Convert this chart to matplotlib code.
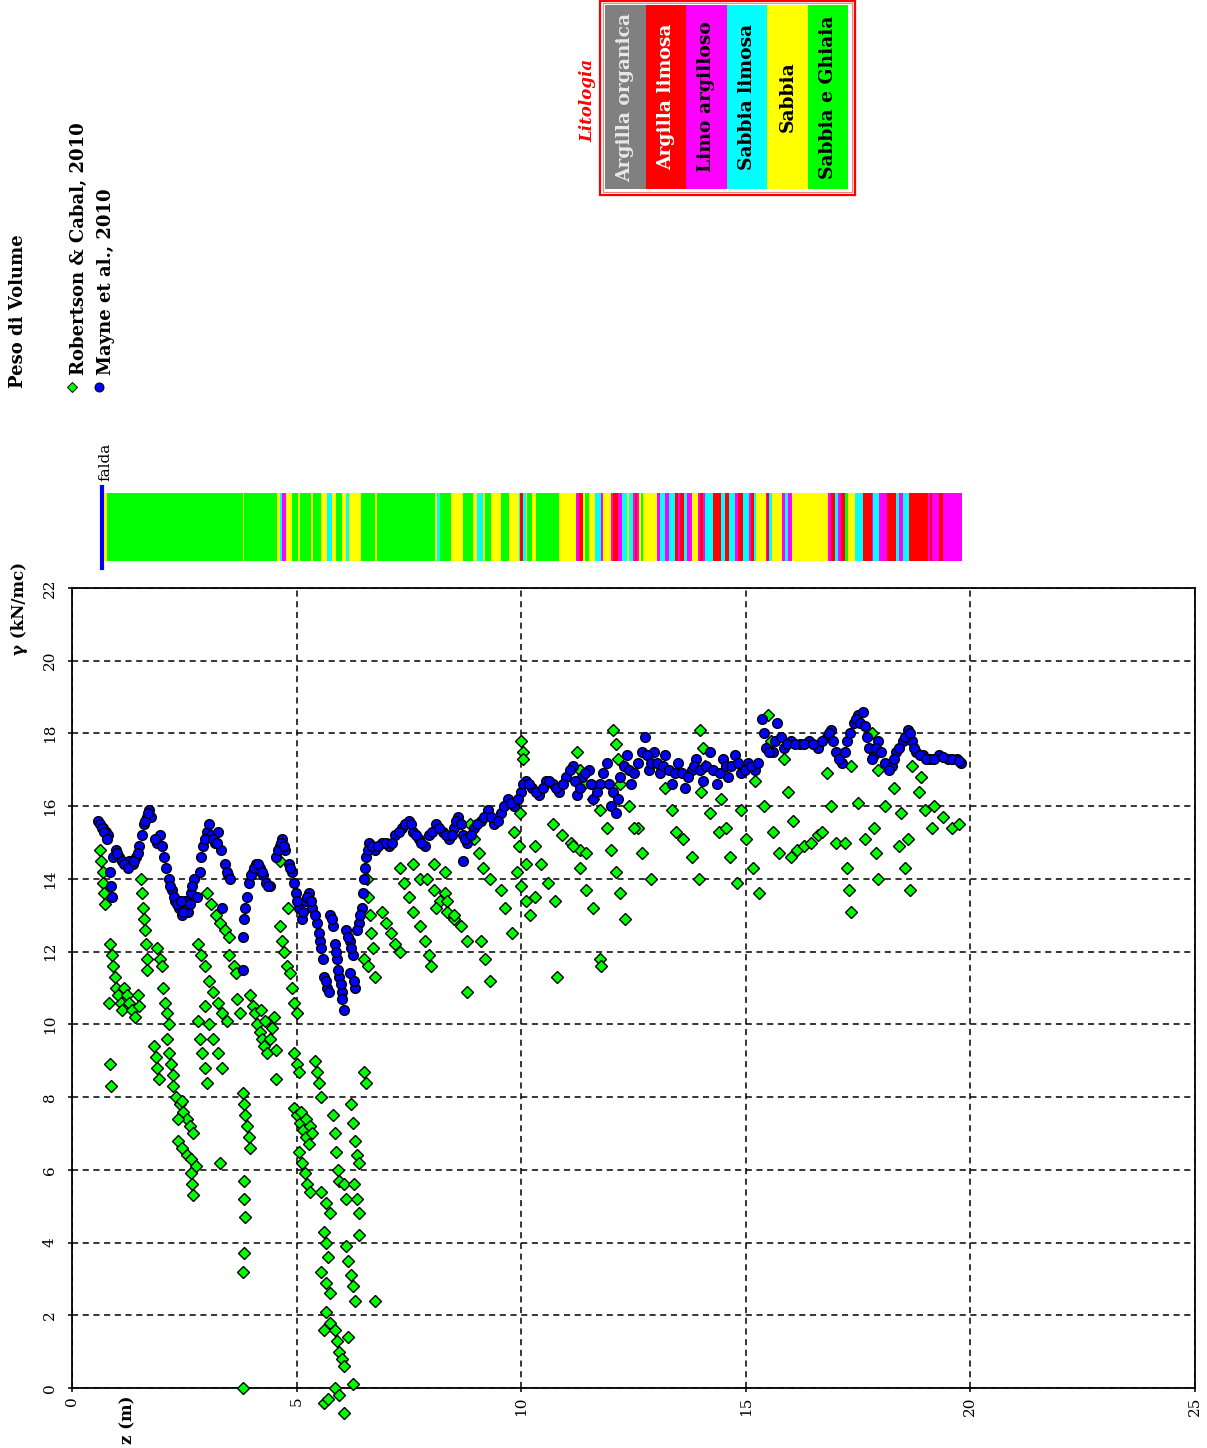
import matplotlib
matplotlib.use('Agg')
import matplotlib.pyplot as plt
from matplotlib.patches import Rectangle

plt.rcParams['font.family'] = ['DejaVu Serif']

W, H = 1207, 1448

# Robertson & Cabal, 2010 : profondita z (m) e peso di volume (kN/mc)
z_rc = [
    0.62, 0.65, 0.68, 0.70, 0.72, 0.74,
    0.82, 0.85, 0.86,
    0.85, 0.88, 0.91, 0.95, 0.99, 1.03, 1.08, 1.12,
    1.15, 1.22, 1.28, 1.34, 1.40, 1.46, 1.50,
    1.53, 1.56, 1.58, 1.60, 1.62, 1.64, 1.66, 1.68,
    1.82, 1.86, 1.90, 1.93,
    1.90, 1.95, 2.00, 2.02, 2.08, 2.12, 2.15,
    2.12, 2.16, 2.20, 2.25,
    2.25, 2.32, 2.40, 2.48, 2.55, 2.62, 2.70, 2.36, 2.45,
    2.35, 2.45, 2.55, 2.65, 2.75,
    2.65, 2.68, 2.70,
    2.80, 2.85, 2.90, 2.95, 3.00,
    2.95, 3.05, 3.15, 3.25, 3.35, 3.45,
    3.00, 3.10, 3.20, 3.30, 3.40, 3.50,
    2.80, 2.88,
    2.95, 3.05, 3.15, 3.25, 3.35,
    3.30,
    3.50, 3.60, 3.65,
    3.68, 3.75,
    3.80, 3.83, 3.86, 3.90, 3.93, 3.96,
    3.82, 3.84, 3.86,
    3.82, 3.80,
    3.80,
    3.96, 4.02, 4.08, 4.12, 4.18, 4.22, 4.28, 4.35, 4.40, 4.45, 4.50, 4.20, 4.30, 4.55,
    4.55,
    4.63, 4.68, 4.72, 4.78,
    4.85, 4.90, 4.95, 5.00,
    4.63, 4.80,
    4.95, 5.00, 5.05,
    4.95, 5.02, 5.08, 5.15, 5.22, 5.28, 5.10, 5.20, 5.30, 5.35,
    5.05, 5.12, 5.18, 5.24, 5.30,
    5.40, 5.45, 5.50, 5.55,
    5.55, 5.65, 5.75,
    5.62, 5.65, 5.70,
    5.55, 5.65, 5.75,
    5.65, 5.75, 5.85, 5.90, 5.95, 6.00, 6.05, 5.60, 6.15,
    5.60, 5.70, 5.85, 5.95, 6.05, 6.25,
    5.82, 5.85, 5.88, 5.92, 5.95,
    6.05, 6.10,
    6.10, 6.15, 6.20, 6.25, 6.30,
    6.20, 6.25, 6.30, 6.35, 6.40,
    6.28, 6.35, 6.40,
    6.40,
    6.50, 6.55,
    6.75,
    6.50, 6.60, 6.75,
    6.57, 6.60, 6.63, 6.66, 6.70,
    6.90, 7.00, 7.10, 7.20, 7.30,
    7.30, 7.40, 7.50, 7.60,
    7.60, 7.75,
    7.75, 7.85, 7.95, 8.00,
    7.90, 8.05, 8.20, 8.35, 8.50, 8.10, 8.30,
    8.05, 8.30,
    8.35, 8.50, 8.65, 8.80,
    8.80,
    8.87, 8.95, 9.05, 9.15, 9.30,
    9.10, 9.20, 9.30,
    9.55, 9.65, 9.80,
    9.85, 9.95, 10.10,
    9.97,
    10.00, 10.03, 10.05,
    9.90, 10.00, 10.10, 10.20, 10.30,
    10.30, 10.45, 10.60, 10.75,
    10.70, 10.90, 11.10, 11.30, 11.45,
    10.80,
    11.15, 11.30, 11.45, 11.60,
    11.25, 11.30, 11.35,
    11.40, 11.60, 11.75,
    11.75, 11.78,
    11.90, 12.00, 12.10, 12.20, 12.30,
    12.05, 12.10, 12.15,
    12.20, 12.40, 12.60,
    12.50, 12.70, 12.90,
    13.10, 13.20, 13.35, 13.45,
    13.60, 13.80, 13.95,
    13.98, 14.05, 14.10,
    14.00, 14.20, 14.40,
    14.45, 14.55, 14.65, 14.80,
    14.90, 15.00, 15.15, 15.30,
    15.50, 15.55,
    15.20, 15.40, 15.60, 15.75,
    15.85, 15.95, 16.05,
    16.00, 16.15, 16.30, 16.45, 16.60, 16.70,
    16.80, 16.90, 17.00,
    17.20, 17.25, 17.30, 17.35,
    17.35, 17.50, 17.65,
    17.80, 17.95, 18.10,
    17.85, 17.90, 17.95,
    18.30, 18.45, 18.60,
    18.40, 18.55, 18.65,
    18.70, 18.90,
    18.85, 19.00, 19.15,
    19.20, 19.40, 19.60, 19.75,
]
g_rc = [
    14.8, 14.5, 14.2, 13.9, 13.6, 13.3,
    10.6, 8.9, 8.3,
    12.2, 11.9, 11.6, 11.3, 11.0, 10.8, 10.6, 10.4,
    11.0, 10.8, 10.6, 10.4, 10.2, 10.8, 10.5,
    14.0, 13.6, 13.2, 12.9, 12.6, 12.2, 11.8, 11.5,
    9.4, 9.1, 8.8, 8.5,
    12.1, 11.8, 11.6, 11.0, 10.6, 10.3, 10.0,
    9.6, 9.2, 8.9, 8.6,
    8.3, 8.0, 7.8, 7.6, 7.4, 7.2, 7.0, 7.4, 7.9,
    6.8, 6.6, 6.4, 6.3, 6.1,
    5.9, 5.6, 5.3,
    10.1, 9.6, 9.2, 8.8, 8.4,
    11.6, 11.2, 10.9, 10.6, 10.3, 10.1,
    13.6, 13.3, 13.0, 12.8, 12.6, 12.4,
    12.2, 11.9,
    10.5, 10.0, 9.6, 9.2, 8.8,
    6.2,
    11.9, 11.6, 11.4,
    10.7, 10.3,
    8.1, 7.8, 7.5, 7.2, 6.9, 6.6,
    5.7, 5.2, 4.7,
    3.7, 3.2,
    0.0,
    10.8, 10.5, 10.3, 10.0, 9.8, 9.6, 9.4, 9.2, 9.6, 9.9, 10.2, 10.4, 10.1, 9.3,
    8.5,
    12.7, 12.3, 12.0, 11.6,
    11.4, 11.0, 10.6, 10.3,
    14.5, 13.2,
    9.2, 8.9, 8.7,
    7.7, 7.5, 7.3, 7.1, 6.9, 6.7, 7.6, 7.4, 7.2, 7.0,
    6.5, 6.2, 5.9, 5.6, 5.4,
    9.0, 8.7, 8.4, 8.0,
    5.4, 5.1, 4.8,
    4.3, 4.0, 3.6,
    3.2, 2.9, 2.6,
    2.1, 1.8, 1.6, 1.3, 1.0, 0.8, 0.6, 1.6, 1.4,
    -0.4, -0.3, 0.0, -0.2, -0.7, 0.1,
    7.5, 7.0, 6.5, 6.0, 5.7,
    5.6, 5.2,
    3.9, 3.5, 3.1, 2.8, 2.4,
    7.8, 7.3, 6.8, 6.4, 6.2,
    5.6, 5.2, 4.8,
    4.2,
    8.7, 8.4,
    2.4,
    11.8, 11.6, 11.3,
    14.0, 13.5, 13.0, 12.5, 12.1,
    13.1, 12.8, 12.5, 12.2, 12.0,
    14.3, 13.9, 13.5, 13.1,
    14.4, 14.0,
    12.7, 12.3, 11.9, 11.6,
    14.0, 13.7, 13.4, 13.1, 12.9, 13.2, 13.6,
    14.4, 14.2,
    13.4, 13.0, 12.7, 12.3,
    10.9,
    15.5, 15.1, 14.7, 14.3, 14.0,
    12.3, 11.8, 11.2,
    13.7, 13.2, 12.5,
    15.3, 14.9, 14.4,
    15.8,
    17.8, 17.5, 17.3,
    14.2, 13.8, 13.4, 13.0, 13.5,
    14.9, 14.4, 13.9, 13.4,
    15.5, 15.2, 15.0, 14.8, 14.7,
    11.3,
    14.9, 14.3, 13.7, 13.2,
    17.5, 17.0, 16.6,
    16.6, 16.2, 15.9,
    11.8, 11.6,
    15.4, 14.8, 14.2, 13.6, 12.9,
    18.1, 17.7, 17.3,
    16.6, 16.0, 15.4,
    15.4, 14.7, 14.0,
    17.1, 16.5, 15.9, 15.3,
    15.1, 14.6, 14.0,
    18.1, 17.6, 17.1,
    16.4, 15.8, 15.3,
    16.2, 15.4, 14.6, 13.9,
    15.9, 15.1, 14.3, 13.6,
    18.5, 17.8,
    16.7, 16.0, 15.3, 14.7,
    17.3, 16.4, 15.6,
    14.6, 14.8, 14.9, 15.0, 15.2, 15.3,
    16.9, 16.0, 15.0,
    15.0, 14.3, 13.7, 13.1,
    17.1, 16.1, 15.1,
    18.0, 17.0, 16.0,
    15.4, 14.7, 14.0,
    16.5, 15.8, 15.1,
    14.9, 14.3, 13.7,
    17.1, 16.8,
    16.4, 15.9, 15.4,
    16.0, 15.7, 15.4, 15.5,
]

# Mayne et al., 2010
z_my = [
    0.58, 0.63, 0.70, 0.75, 0.80, 0.84, 0.86, 0.88, 0.92, 0.98,
    1.05, 1.12, 1.20, 1.28, 1.35, 1.42, 1.50, 1.55, 1.60, 1.66,
    1.72, 1.76, 1.90, 1.95, 2.00, 2.05, 2.10, 2.15, 2.22, 2.30,
    2.38, 2.45, 2.52, 2.58, 2.65, 2.72, 2.78, 2.85, 2.92, 3.00,
    3.05, 3.10, 3.18, 3.25, 3.32, 3.40, 3.48, 3.35, 3.80, 3.82,
    3.80, 3.90, 3.95, 4.02, 4.10, 4.18, 4.25, 4.32, 4.40, 4.55,
    4.62, 4.68, 4.75, 4.82, 4.90, 4.98, 5.05, 5.12, 5.20, 5.28,
    5.35, 5.45, 5.52, 5.58, 5.62, 5.68, 5.75, 5.80, 5.85, 5.90,
    5.95, 6.00, 6.05, 6.10, 6.18, 6.25, 6.18, 6.30, 6.38, 6.45,
    6.50, 6.55, 6.62, 6.75, 6.90, 7.05, 7.20, 7.35, 7.50, 7.60,
    7.72, 7.85, 7.95, 8.10, 8.25, 8.40, 8.50, 8.60, 8.70, 8.80,
    8.70, 8.95, 9.10, 9.25, 9.40, 9.55, 9.70, 9.85, 10.00, 10.10,
    10.25, 10.40, 10.55, 10.70, 10.85, 11.00, 11.15, 11.25, 11.35, 11.50,
    11.60, 11.75, 11.90, 12.00, 12.10, 12.20, 12.35, 12.45, 12.60, 12.75,
    12.85, 12.95, 13.10, 13.20, 13.35, 13.50, 13.65, 13.80, 13.90, 14.05,
    14.20, 14.35, 14.50, 14.60, 14.75, 14.90, 15.05, 15.20, 15.35, 15.45,
    15.60, 15.70, 15.85, 16.00, 16.20, 16.40, 16.60, 16.80, 16.90, 17.00,
    17.15, 17.25, 17.40, 17.50, 17.60, 17.70, 17.85, 17.95, 18.10, 18.25,
    18.35, 18.50, 18.60, 18.70, 18.80, 18.95, 19.10, 19.30, 19.50, 19.70,
    19.80,
    0.66, 0.72, 0.78, 1.00, 1.15, 1.25, 1.38, 1.46, 1.63, 1.69,
    1.85, 2.18, 2.26, 2.34, 2.42, 2.48, 2.62, 2.68, 2.88, 2.96,
    3.14, 3.22, 3.44, 3.52, 3.85, 3.98, 4.06, 4.14, 4.22, 4.36,
    4.58, 4.65, 4.72, 4.86, 4.94, 5.02, 5.15, 5.24, 5.32, 5.40,
    5.50, 5.55, 5.65, 5.72, 5.78, 5.88, 5.92, 5.98, 6.02, 6.14,
    6.22, 6.28, 6.35, 6.42, 6.48, 6.52, 6.58, 6.68, 6.82, 6.98,
    7.12, 7.28, 7.42, 7.55, 7.66, 7.78, 8.02, 8.18, 8.32, 8.45,
    8.55, 8.65, 8.75, 8.88, 9.02, 9.18, 9.32, 9.48, 9.62, 9.78,
    9.92, 10.05, 10.18, 10.32, 10.48, 10.62, 10.78, 10.92, 11.08, 11.20,
    11.30, 11.42, 11.55, 11.68, 11.82, 11.95, 12.05, 12.15, 12.28, 12.40,
    12.52, 12.68, 12.80, 12.90, 13.02, 13.15, 13.28, 13.42, 13.58, 13.72,
    13.85, 13.98, 14.12, 14.28, 14.42, 14.55, 14.68, 14.82, 14.98, 15.12,
    15.28, 15.40, 15.52, 15.65, 15.78, 15.92, 16.10, 16.30, 16.50, 16.70,
    16.85, 16.95, 17.08, 17.20, 17.32, 17.45, 17.55, 17.65, 17.75, 17.80,
    17.90, 18.02, 18.18, 18.30, 18.42, 18.55, 18.65, 18.75, 18.88, 19.02,
    19.20, 19.40, 19.60, 19.75,
]
g_my = [
    15.6, 15.5, 15.4, 15.3, 15.2, 14.2, 13.8, 13.5, 14.6, 14.8,
    14.6, 14.5, 14.4, 14.5, 14.4, 14.6, 14.9, 15.2, 15.5, 15.7,
    15.9, 15.7, 15.0, 15.2, 14.9, 14.6, 14.3, 14.0, 13.7, 13.4,
    13.2, 13.0, 13.4, 13.1, 13.6, 14.0, 13.5, 14.2, 14.9, 15.3,
    15.5, 15.2, 15.0, 15.3, 14.8, 14.4, 14.1, 13.2, 12.4, 12.9,
    11.5, 13.5, 13.9, 14.2, 14.4, 14.3, 14.1, 13.9, 13.8, 14.6,
    14.9, 15.1, 14.8, 14.4, 14.2, 13.6, 13.2, 12.9, 13.4, 13.6,
    13.2, 12.8, 12.3, 11.8, 11.3, 11.0, 13.0, 12.7, 12.2, 11.8,
    11.3, 10.9, 10.4, 12.6, 12.3, 11.9, 11.4, 11.0, 12.8, 13.2,
    14.0, 14.6, 15.0, 14.8, 15.0, 14.9, 15.2, 15.4, 15.6, 15.3,
    15.1, 14.9, 15.2, 15.5, 15.3, 15.1, 15.4, 15.7, 15.2, 15.0,
    14.5, 15.4, 15.6, 15.9, 15.5, 15.8, 16.2, 16.0, 16.4, 16.7,
    16.5, 16.3, 16.7, 16.6, 16.4, 16.8, 17.1, 16.3, 16.8, 17.0,
    16.2, 16.6, 17.2, 16.0, 15.8, 16.8, 17.4, 16.6, 17.2, 17.9,
    17.0, 17.5, 16.9, 17.4, 16.6, 17.2, 16.5, 17.0, 17.3, 16.7,
    17.5, 16.6, 17.3, 16.8, 17.4, 16.9, 17.2, 17.0, 18.4, 17.6,
    17.5, 18.3, 17.6, 17.8, 17.7, 17.8, 17.6, 17.9, 18.1, 17.5,
    17.2, 17.8, 18.3, 18.5, 18.6, 17.9, 17.4, 17.8, 17.2, 17.1,
    17.5, 17.8, 18.1, 17.8, 17.5, 17.4, 17.3, 17.4, 17.3, 17.3,
    17.2,
    15.4, 15.3, 15.1, 14.7, 14.4, 14.3, 14.5, 14.7, 15.6, 15.8,
    15.1, 13.8, 13.5, 13.3, 13.4, 13.1, 13.3, 13.8, 14.6, 15.1,
    15.1, 15.0, 14.2, 14.0, 13.2, 14.1, 14.3, 14.4, 14.2, 13.8,
    14.8, 15.0, 14.9, 14.3, 13.9, 13.4, 13.1, 13.5, 13.4, 13.0,
    12.5, 12.1, 11.2, 10.9, 12.9, 12.0, 11.5, 11.1, 10.7, 12.4,
    12.1, 11.2, 12.6, 13.0, 13.6, 14.3, 14.8, 14.9, 14.9, 15.0,
    15.0, 15.3, 15.5, 15.5, 15.2, 15.0, 15.3, 15.4, 15.2, 15.2,
    15.6, 15.5, 15.1, 15.2, 15.5, 15.7, 15.7, 15.6, 16.0, 16.1,
    16.2, 16.6, 16.6, 16.4, 16.5, 16.7, 16.5, 16.6, 17.0, 16.7,
    16.5, 16.9, 16.6, 16.4, 16.9, 16.6, 16.4, 16.2, 17.1, 17.0,
    16.9, 17.5, 17.4, 17.2, 17.2, 17.1, 17.0, 16.9, 16.9, 16.8,
    17.1, 17.0, 17.1, 17.0, 16.9, 17.1, 17.1, 17.2, 17.0, 17.1,
    17.2, 18.0, 17.5, 17.8, 17.9, 17.7, 17.7, 17.7, 17.7, 17.8,
    18.0, 17.8, 17.3, 17.5, 18.0, 18.4, 18.3, 18.2, 17.6, 17.3,
    17.6, 17.5, 17.0, 17.3, 17.6, 17.9, 18.0, 17.6, 17.4, 17.3,
    17.3, 17.35, 17.3, 17.25,
]

# litologia: tetto dello strato (m) e codice
lit_top = [
    0.72, 0.79, 3.80, 3.84, 4.56, 4.64, 4.68, 4.77, 4.90, 5.04,
    5.08, 5.32, 5.36, 5.54, 5.67, 5.78, 5.87, 6.02, 6.11, 6.17,
    6.43, 6.75, 6.79, 8.07, 8.12, 8.19, 8.44, 8.70, 8.93, 9.01,
    9.16, 9.19, 9.33, 9.55, 9.73, 9.94, 9.97, 10.05, 10.10, 10.12,
    10.23, 10.34, 10.85, 11.23, 11.28, 11.37, 11.42, 11.52, 11.64, 11.77,
    11.81, 12.00, 12.04, 12.16, 12.24, 12.36, 12.41, 12.48, 12.53, 12.57,
    12.62, 12.67, 12.72, 13.03, 13.10, 13.20, 13.30, 13.42, 13.48, 13.54,
    13.62, 13.68, 13.80, 13.93, 13.97, 14.05, 14.10, 14.28, 14.45, 14.54,
    14.63, 14.76, 14.83, 14.94, 15.07, 15.12, 15.19, 15.23, 15.44, 15.48,
    15.52, 15.58, 15.80, 15.87, 15.95, 16.02, 16.82, 16.89, 16.99, 17.06,
    17.11, 17.21, 17.28, 17.43, 17.62, 17.80, 17.84, 17.97, 18.15, 18.34,
    18.42, 18.51, 18.64, 19.06, 19.10, 19.14, 19.31, 19.40,
]
lit_code = (
    "YGYGYCMYGY"
    "GYGYCYGYCY"
    "GYGYCGYGYC"
    "YGYGYCRCYG"
    "YGYMRYGYCM"
    "YMRMCYCMRM"
    "YGYMCMCRMR"
    "CMYMRMCRCR"
    "CMRCMRCYMR"
    "CYMCMYMRCM"
    "RGYCRMCMRC"
    "MCRMRMRM"
)
lit_bottom = 19.81
falda = 0.66

lit_names = ['Argilla organica', 'Argilla limosa', 'Limo argilloso',
             'Sabbia limosa', 'Sabbia', 'Sabbia e Ghiaia']
lit_colors = ['#808080', '#ff0000', '#ff00ff', '#00ffff', '#ffff00', '#00ff00']
lit_text = ['#e8e8e8', 'white', 'black', 'black', 'black', 'black']
code_color = {'O': '#808080', 'R': '#ff0000', 'M': '#ff00ff',
              'C': '#00ffff', 'Y': '#ffff00', 'G': '#00ff00'}


def fx(px):
    return px / W


def fy(py):
    return 1 - py / H


fig = plt.figure(figsize=(W / 100, H / 100), dpi=100)

# grafico principale
ax = fig.add_axes([fx(72), fy(1388), (1195 - 72) / W, (1388 - 588) / H])
ax.set_xlim(0, 25)
ax.set_ylim(0, 22)
ax.set_xticks(range(0, 26, 5))
ax.set_yticks(range(0, 23, 2))
ax.grid(True, color='black', linestyle=(0, (4, 3)), linewidth=1.1)
ax.set_axisbelow(True)
for s in ax.spines.values():
    s.set_linewidth(1.3)
ax.tick_params(direction='out', length=3, width=1.1, labelsize=11)
ax.tick_params(axis='x', labelrotation=90, pad=3)
ax.tick_params(axis='y', labelrotation=90, pad=8)
plt.setp(ax.get_yticklabels(), va='center')

ax.plot(z_rc, g_rc, linestyle='none', marker='D', ms=6, mfc='#00ff00',
        mec='black', mew=1.0, clip_on=False, zorder=3)
ax.plot(z_my, g_my, linestyle='none', marker='o', ms=7, mfc='#0000ff',
        mec='black', mew=1.0, clip_on=False, zorder=4)

# colonna litologica
axb = fig.add_axes([fx(72), fy(561), (1195 - 72) / W, (561 - 493) / H])
axb.set_xlim(0, 25)
axb.set_ylim(0, 1)
axb.axis('off')
bottoms = lit_top[1:] + [lit_bottom]
widths = [b - t for t, b in zip(lit_top, bottoms)]
axb.barh(0.5, widths, left=lit_top, height=1,
         color=[code_color[c] for c in lit_code], linewidth=0)
axb.plot([falda, falda], [-0.1, 1.09], color='#0000ff', lw=3, clip_on=False)

# testi e legende (coordinate in pixel)
ov = fig.add_axes([0, 0, 1, 1])
ov.set_xlim(0, W)
ov.set_ylim(H, 0)
ov.axis('off')

ov.text(18, 388, 'Peso di Volume', rotation=90, ha='center', va='bottom',
        fontsize=13, fontweight='bold')
ov.plot(72, 387, 'D', ms=5, mfc='#00ff00', mec='black', mew=0.7)
ov.text(79, 375, 'Robertson & Cabal, 2010', rotation=90, ha='center',
        va='bottom', fontsize=13, fontweight='bold')
ov.plot(99, 387, 'o', ms=6.5, mfc='#0000ff', mec='black', mew=0.7)
ov.text(106, 375, 'Mayne et al., 2010', rotation=90, ha='center',
        va='bottom', fontsize=13, fontweight='bold')
ov.text(105, 481, 'falda', rotation=90, ha='center', va='bottom', fontsize=11)
ov.text(20, 655, 'γ (kN/mc)', rotation=90, ha='center', va='bottom',
        fontsize=12, fontweight='bold')
ov.text(128, 1395, 'z (m)', rotation=90, ha='center', va='top',
        fontsize=12, fontweight='bold')

ov.add_patch(Rectangle((599.5, 0.8), 255, 194, fill=False, ec='red', lw=1.6))
ov.add_patch(Rectangle((602.5, 3), 249, 189, fill=False, ec='#ff8080', lw=0.8))
cw = (848 - 605) / len(lit_names)
for i, (name, col, tc) in enumerate(zip(lit_names, lit_colors, lit_text)):
    x0 = 605 + i * cw
    ov.add_patch(Rectangle((x0, 5), cw, 184, color=col, lw=0))
    ov.text(x0 + cw / 2, 97, name, rotation=90, ha='center', va='center',
            fontsize=13.5, fontweight='bold', color=tc)
ov.text(588, 100, 'Litologia', rotation=90, ha='center', va='center',
        fontsize=12, fontweight='bold', fontstyle='italic', color='red')

fig.savefig('out.png', dpi=100)
